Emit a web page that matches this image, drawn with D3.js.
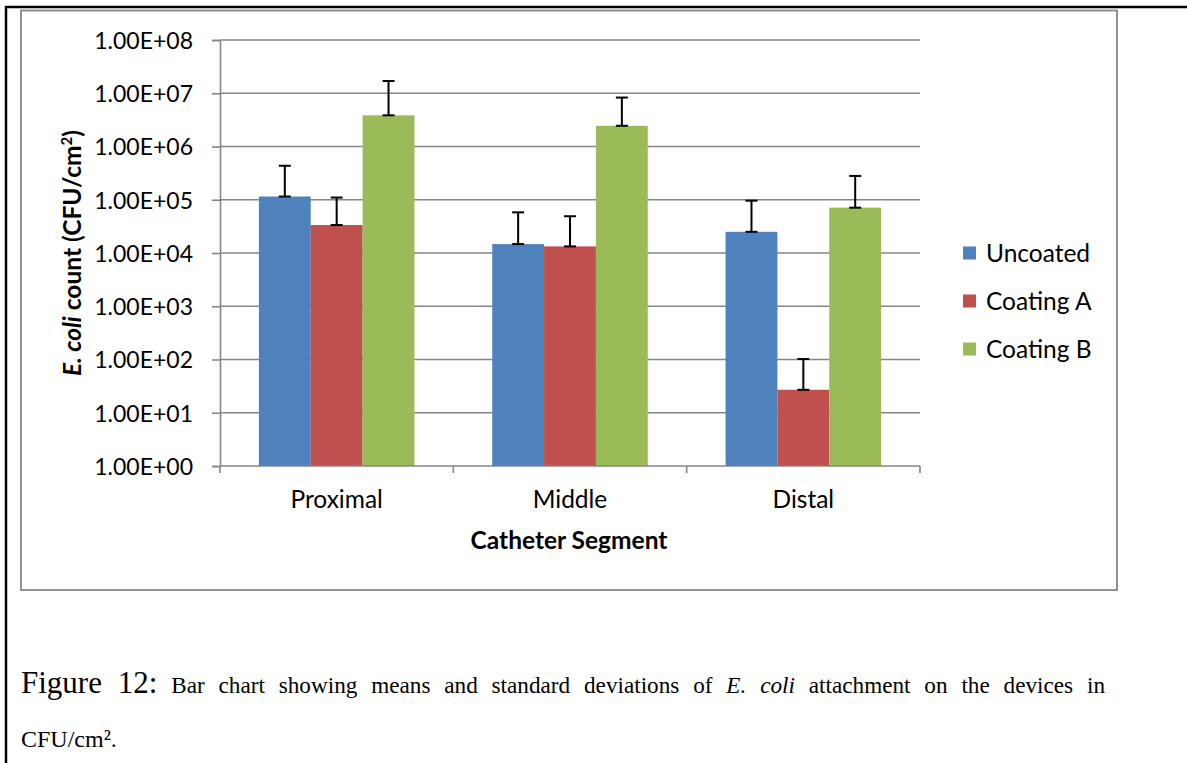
<!DOCTYPE html>
<html><head><meta charset="utf-8">
<script src="https://cdn.jsdelivr.net/npm/d3@7"></script>
<style>body{margin:0;background:#fff}svg{display:block}</style>
</head><body>
<svg id="c" width="1187" height="763"></svg>
<script>
const categories = ["Proximal", "Middle", "Distal"];
const seriesNames = ["Uncoated", "Coating A", "Coating B"];
const colors = ["#4F81BD", "#C0504D", "#9BBB59"];
const uncoated = [1.15e5, 1.47e4, 2.5e4];
const coatingA = [3.35e4, 1.33e4, 27];
const coatingB = [3.85e6, 2.45e6, 7.1e4];
const uncoatedErrTop = [4.35e5, 5.8e4, 9.6e4];
const coatingAErrTop = [1.1e5, 4.9e4, 1.02e2];
const coatingBErrTop = [1.7e7, 8.3e6, 2.8e5];
const yTicks = [1e0, 1e1, 1e2, 1e3, 1e4, 1e5, 1e6, 1e7, 1e8];
const yTickLabels = ["1.00E+00","1.00E+01","1.00E+02","1.00E+03","1.00E+04","1.00E+05","1.00E+06","1.00E+07","1.00E+08"];

const values = [uncoated, coatingA, coatingB];
const errTops = [uncoatedErrTop, coatingAErrTop, coatingBErrTop];

const svg = d3.select("#c");
const font = "Lato, 'Open Sans', sans-serif";
const serif = "'Liberation Serif', 'Times New Roman', serif";
const gray = "#868686";

// page borders
svg.append("line").attr("x1",5).attr("x2",1187).attr("y1",7).attr("y2",7).attr("stroke","#000").attr("stroke-width",2.5);
svg.append("line").attr("x1",6).attr("x2",6).attr("y1",6).attr("y2",763).attr("stroke","#000").attr("stroke-width",2.5);
// chart frame
svg.append("rect").attr("x",21).attr("y",10.5).attr("width",1096).attr("height",579.5)
  .attr("fill","none").attr("stroke",gray).attr("stroke-width",1.8);

const L = 220, R = 920, T = 40, B = 466;
const x0 = d3.scaleBand().domain(categories).range([L, R]).paddingInner(0).paddingOuter(0);
const x1 = d3.scaleBand().domain(seriesNames).range([0, x0.bandwidth()]).paddingOuter(0.75).paddingInner(0);
const y = d3.scaleLog().domain([1, 1e8]).range([B, T]);

// gridlines
svg.append("g").selectAll("line").data(yTicks.slice(1)).join("line")
  .attr("x1", L).attr("x2", R).attr("y1", d=>y(d)).attr("y2", d=>y(d))
  .attr("stroke", gray).attr("stroke-width", 1.6);

// y axis
const yAxis = d3.axisLeft(y).tickValues(yTicks).tickFormat((d,i)=>yTickLabels[i]).tickSize(8).tickPadding(19);
const gy = svg.append("g").attr("transform",`translate(${L},0)`).call(yAxis);
gy.select(".domain").attr("stroke",gray).attr("stroke-width",1.6);
gy.selectAll(".tick line").attr("stroke",gray).attr("stroke-width",1.6);
gy.selectAll(".tick text").attr("font-family",font).attr("font-size",23).attr("fill","#000").attr("dy","0.36em");

// bars
const groups = svg.append("g").selectAll("g").data(categories).join("g")
  .attr("transform", c=>`translate(${x0(c)},0)`);
groups.selectAll("rect").data((c,ci)=>seriesNames.map((s,si)=>({s,si,v:values[si][ci]}))).join("rect")
  .attr("x", d=>x1(d.s)).attr("width", x1.bandwidth())
  .attr("y", d=>y(d.v)).attr("height", d=>B - y(d.v))
  .attr("fill", d=>colors[d.si]);

// error bars (plus direction)
const eb = groups.selectAll("g.err").data((c,ci)=>seriesNames.map((s,si)=>({s,si,v:values[si][ci],e:errTops[si][ci]}))).join("g").attr("class","err");
const cx = d=>x1(d.s)+x1.bandwidth()/2;
eb.append("line").attr("x1",cx).attr("x2",cx)
  .attr("y1",d=>y(d.v)).attr("y2",d=>y(d.e)).attr("stroke","#000").attr("stroke-width",2);
eb.append("line").attr("x1",d=>cx(d)-6).attr("x2",d=>cx(d)+6)
  .attr("y1",d=>y(d.e)).attr("y2",d=>y(d.e)).attr("stroke","#000").attr("stroke-width",2);
eb.append("line").attr("x1",d=>cx(d)-6).attr("x2",d=>cx(d)+6)
  .attr("y1",d=>y(d.v)).attr("y2",d=>y(d.v)).attr("stroke","#000").attr("stroke-width",2);

// x axis
svg.append("line").attr("x1",L).attr("x2",R).attr("y1",B).attr("y2",B).attr("stroke",gray).attr("stroke-width",1.6);
const bounds = [L].concat(categories.map(c=>x0(c)+x0.bandwidth()));
svg.append("g").selectAll("line").data(bounds).join("line")
  .attr("x1",d=>d).attr("x2",d=>d).attr("y1",B).attr("y2",B+7).attr("stroke",gray).attr("stroke-width",1.6);
svg.append("g").selectAll("text").data(categories).join("text")
  .attr("x",c=>x0(c)+x0.bandwidth()/2).attr("y",508).attr("text-anchor","middle")
  .attr("font-family",font).attr("font-size",24.5).text(d=>d);

// axis titles
svg.append("text").attr("x",569).attr("y",549).attr("text-anchor","middle")
  .attr("font-family",font).attr("font-size",24.5).attr("font-weight","bold").text("Catheter Segment");
const yt = svg.append("text").attr("transform","translate(81,253) rotate(-90)").attr("text-anchor","middle")
  .attr("font-family",font).attr("font-size",24.5).attr("font-weight","bold");
yt.append("tspan").attr("font-style","italic").text("E. coli");
yt.append("tspan").text(" count (CFU/cm");
yt.append("tspan").attr("font-size",15).attr("dy",-9).text("2");
yt.append("tspan").attr("dy",9).text(")");

// legend
const lg = svg.append("g").selectAll("g").data(seriesNames).join("g")
  .attr("transform",(d,i)=>`translate(963,${253 + i*48})`);
lg.append("rect").attr("x",0).attr("y",-6.5).attr("width",13).attr("height",13).attr("fill",(d,i)=>colors[i]);
lg.append("text").attr("x",23).attr("y",0).attr("dy","0.36em").attr("font-family",font).attr("font-size",24.5).text(d=>d);

// caption (justified first line)
const cap = svg.append("text").attr("x",21).attr("y",693).attr("font-family",serif).attr("font-size",23.2);
cap.append("tspan").attr("font-size",31).text("Figure 12:");
cap.append("tspan").text(" Bar chart showing means and standard deviations of ");
cap.append("tspan").attr("font-style","italic").text("E. coli");
cap.append("tspan").text(" attachment on the devices in");
const capLen = cap.node().getComputedTextLength();
const nSpaces = (cap.text().match(/ /g) || []).length;
cap.attr("word-spacing", Math.max(0, (1105 - 21 - capLen) / nSpaces));
svg.append("text").attr("x",21).attr("y",747).attr("font-family",serif).attr("font-size",24).text("CFU/cm².");
</script>
</body></html>
